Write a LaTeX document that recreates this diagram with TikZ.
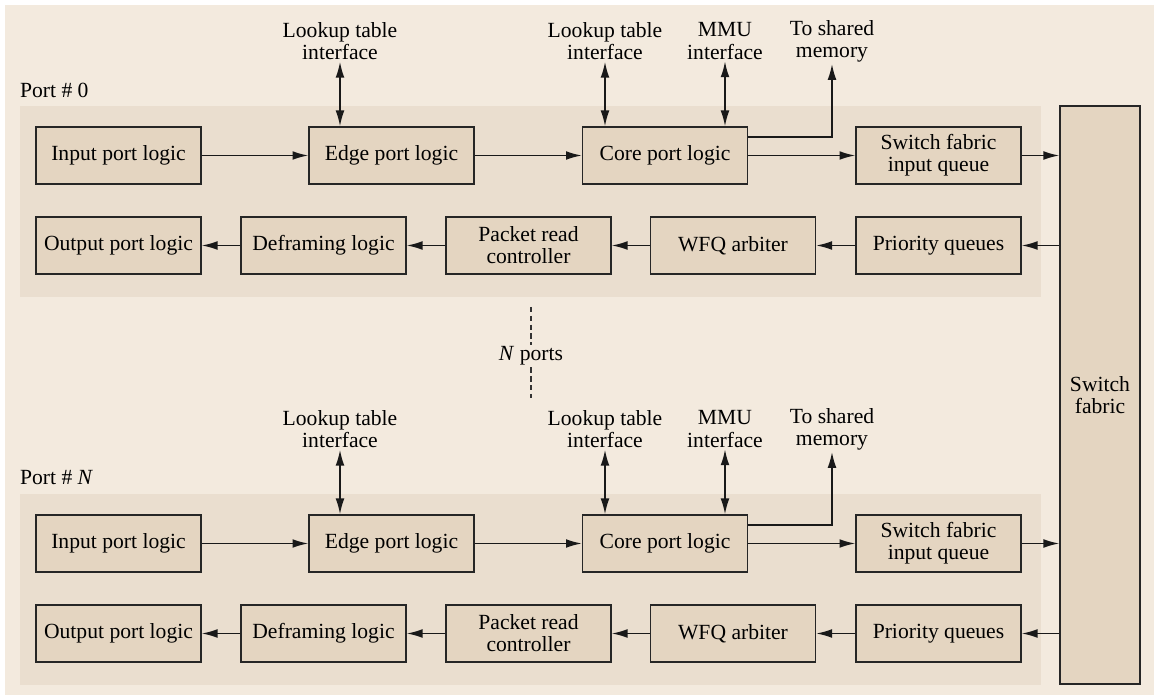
\documentclass[tikz,border=0pt]{standalone}
\usepackage{fontspec}
\setmainfont{Liberation Serif}
\usepackage{xcolor}
\usepackage{tikz}
\usetikzlibrary{arrows.meta}

\definecolor{fond}{RGB}{243,234,222}
\definecolor{panneau}{RGB}{234,222,207}
\definecolor{boite}{RGB}{228,213,193}

\begin{document}
\begin{tikzpicture}[x=0.02cm,y=-0.02cm,
	every node/.style={font=\fontsize{12.3}{12.6}\selectfont,align=center},
	bloc/.style={draw=black!85,fill=boite,line width=0.8pt,minimum width=3.3cm,minimum height=1.14cm,inner sep=1pt},
	fl/.style={-{Latex[length=9pt,width=5pt]},line width=0.9pt,black!90},
	dfl/.style={{Latex[length=9pt,width=5pt]}-{Latex[length=9pt,width=5pt]},line width=0.9pt,black!90},
	lab/.style={inner sep=1pt}]
\useasboundingbox (0,0) rectangle (1154,695);
\fill[white] (0,0) rectangle (1154,695);
\fill[fond] (5,5) rectangle (1154,695);

%switch fabric commun
\node[bloc,minimum width=1.6cm,minimum height=11.56cm] (SF) at (1100,395) {Switch\\fabric};

\begin{scope} %port du haut
	\fill[panneau] (20,106) rectangle (1041,297);
	\node[anchor=west,lab] (P) at (18,90) {Port \# 0};
	%ligne entree
	\node[bloc] (IN) at (118.5,155.5) {Input port logic};
	\node[bloc] (EP) at (391.5,155.5) {Edge port logic};
	\node[bloc] (CP) at (665,155.5) {Core port logic};
	\node[bloc] (SQ) at (938.5,155.5) {Switch fabric\\input queue};
	%ligne sortie
	\node[bloc] (OUT) at (118.5,245.5) {Output port logic};
	\node[bloc] (DF) at (323.5,245.5) {Deframing logic};
	\node[bloc] (PR) at (528.5,245.5) {Packet read\\controller};
	\node[bloc] (WF) at (733,245.5) {WFQ arbiter};
	\node[bloc] (PQ) at (938.5,245.5) {Priority queues};
	%interfaces
	\node[lab] (L1) at (340,41) {Lookup table\\interface};
	\node[lab] (L2) at (605,41) {Lookup table\\interface};
	\node[lab] (MM) at (725,41) {MMU\\interface};
	\node[lab] (SM) at (832,41) {To shared\\memory};

	\draw[fl] (IN) -- (EP);
	\draw[fl] (EP) -- (CP);
	\draw[fl] (CP) -- (SQ);
	\draw[fl] (SQ.east) -- (SQ.east -| SF.west);
	\draw[fl] (PQ.east -| SF.west) -- (PQ);
	\draw[fl] (PQ) -- (WF);
	\draw[fl] (WF) -- (PR);
	\draw[fl] (PR) -- (DF);
	\draw[fl] (DF) -- (OUT);
	\draw[dfl] (L1.south) -- (L1.south |- EP.north);
	\draw[dfl] (L2.south) -- (L2.south |- CP.north);
	\draw[dfl] (MM.south) -- (MM.south |- CP.north);
	\draw[fl] ([yshift=0.37cm]CP.east) -| (SM.south);
\end{scope}

%N ports
\node[inner sep=1pt] (NP) at (531,356) {\textit{N} ports};
\coordinate (d1) at (531,307);
\coordinate (d2) at (531,398);
\draw[dash pattern=on 3pt off 2pt,line width=0.8pt,black!80] (d1) -- (NP.north);
\draw[dash pattern=on 3pt off 2pt,line width=0.8pt,black!80] (NP.south) -- (d2);

\begin{scope}[shift={(0,388)}] %port du bas
	\fill[panneau] (20,106) rectangle (1041,297);
	\node[anchor=west,lab] (P) at (18,90) {Port \# \textit{N}};
	%ligne entree
	\node[bloc] (IN) at (118.5,155.5) {Input port logic};
	\node[bloc] (EP) at (391.5,155.5) {Edge port logic};
	\node[bloc] (CP) at (665,155.5) {Core port logic};
	\node[bloc] (SQ) at (938.5,155.5) {Switch fabric\\input queue};
	%ligne sortie
	\node[bloc] (OUT) at (118.5,245.5) {Output port logic};
	\node[bloc] (DF) at (323.5,245.5) {Deframing logic};
	\node[bloc] (PR) at (528.5,245.5) {Packet read\\controller};
	\node[bloc] (WF) at (733,245.5) {WFQ arbiter};
	\node[bloc] (PQ) at (938.5,245.5) {Priority queues};
	%interfaces
	\node[lab] (L1) at (340,41) {Lookup table\\interface};
	\node[lab] (L2) at (605,41) {Lookup table\\interface};
	\node[lab] (MM) at (725,41) {MMU\\interface};
	\node[lab] (SM) at (832,41) {To shared\\memory};

	\draw[fl] (IN) -- (EP);
	\draw[fl] (EP) -- (CP);
	\draw[fl] (CP) -- (SQ);
	\draw[fl] (SQ.east) -- (SQ.east -| SF.west);
	\draw[fl] (PQ.east -| SF.west) -- (PQ);
	\draw[fl] (PQ) -- (WF);
	\draw[fl] (WF) -- (PR);
	\draw[fl] (PR) -- (DF);
	\draw[fl] (DF) -- (OUT);
	\draw[dfl] (L1.south) -- (L1.south |- EP.north);
	\draw[dfl] (L2.south) -- (L2.south |- CP.north);
	\draw[dfl] (MM.south) -- (MM.south |- CP.north);
	\draw[fl] ([yshift=0.37cm]CP.east) -| (SM.south);
\end{scope}

\end{tikzpicture}
\end{document}
